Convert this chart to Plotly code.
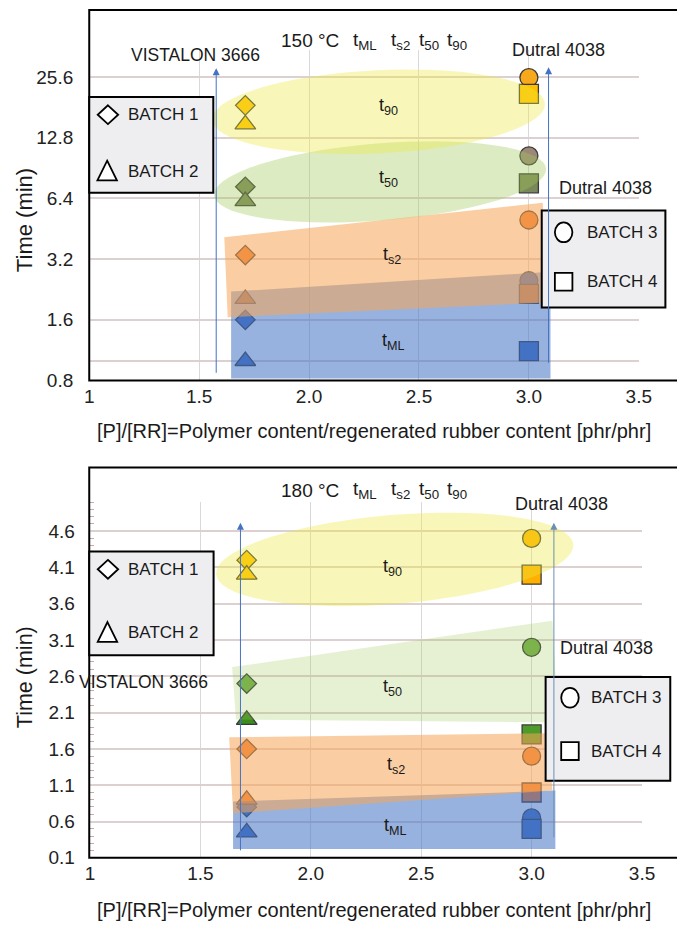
import math
import plotly.graph_objects as go

W, H = 685, 929

# ---------------- data ----------------
x_vistalon = 1.71
x_dutral = 3.0
params = ["t90", "t50", "ts2", "tML"]

# 150 °C  (values in min)  order: t90, t50, ts2, tML
top_batch1 = [18.5, 7.3, 3.35, 1.6]    # VISTALON 3666, diamond
top_batch2 = [14.9, 6.2, 2.03, 1.0]    # VISTALON 3666, triangle
top_batch3 = [25.4, 10.4, 5.0, 2.5]    # Dutral 4038, circle
top_batch4 = [21.1, 7.6, 2.15, 1.12]   # Dutral 4038, square

# 180 °C
bot_batch1 = [4.2, 2.5, 1.6, 0.8]
bot_batch2 = [4.0, 2.0, 0.9, 0.45]
bot_batch3 = [4.5, 3.0, 1.5, 0.65]
bot_batch4 = [4.0, 1.8, 1.0, 0.5]

x_tickvals = [1, 1.5, 2.0, 2.5, 3.0, 3.5]
x_ticktext = ["1", "1.5", "2.0", "2.5", "3.0", "3.5"]
top_y_tickvals = [0.8, 1.0, 1.6, 3.2, 6.4, 12.8, 25.6]
top_y_ticktext = ["0.8", "", "1.6", "3.2", "6.4", "12.8", "25.6"]

# marker colours (t90, t50, ts2, tML)
top_col = {
    1: ["#FFC000", "#7A875A", "#ED7D31", "#4472C4"],
    2: ["#FFC000", "#7A875A", "#ED7D31", "#4472C4"],
    3: ["#F7A81B", "#9C8878", "#ED7D31", "#4472C4"],
    4: ["#FFC000", "#7A875A", "#ED7D31", "#4472C4"],
}
bot_col = {
    1: ["#FFC000", "#70AD47", "#ED7D31", "#4472C4"],
    2: ["#FFC000", "#3C8C1E", "#ED7D31", "#4472C4"],
    3: ["#FFB400", "#70AD47", "#ED7D31", "#4472C4"],
    4: ["#FFB000", "#4E9A2A", "#ED7D31", "#4472C4"],
}

FONT = "Liberation Sans, Arial, sans-serif"


def X(px):
    return px / W


def Y(py):
    return 1 - py / H


fig = go.Figure()

symbols = {1: "diamond", 2: "triangle-up", 3: "circle", 4: "square"}
sizes = {1: 15, 2: 18, 3: 18, 4: 19}


def add_batches(data, cols, xa, ya):
    for b in (1, 2, 3, 4):
        xv = x_vistalon if b in (1, 2) else x_dutral
        fig.add_trace(go.Scatter(
            x=[xv] * len(data[b]), y=data[b], mode="markers",
            xaxis=xa, yaxis=ya, showlegend=False, hoverinfo="skip",
            marker=dict(symbol=symbols[b], size=sizes[b], color=cols[b],
                        line=dict(color="#3A3A3A", width=1.3)),
        ))


add_batches({1: top_batch1, 2: top_batch2, 3: top_batch3, 4: top_batch4}, top_col, "x", "y")
add_batches({1: bot_batch1, 2: bot_batch2, 3: bot_batch3, 4: bot_batch4}, bot_col, "x2", "y2")

# ---------------- shapes ----------------
shapes = []


def poly(pts, fill, line=None, width=0):
    path = "M " + " L ".join(f"{X(a):.5f},{Y(b):.5f}" for a, b in pts) + " Z"
    shapes.append(dict(type="path", xref="paper", yref="paper", path=path,
                       fillcolor=fill, line=dict(width=width, color=line or "rgba(0,0,0,0)"),
                       layer="above"))


def ellipse(cx, cy, rx, ry, ang_deg, fill):
    a = math.radians(ang_deg)
    pts = []
    for i in range(72):
        t = 2 * math.pi * i / 72
        ex, ey = rx * math.cos(t), ry * math.sin(t)
        pts.append((cx + ex * math.cos(a) - ey * math.sin(a),
                    cy + ex * math.sin(a) + ey * math.cos(a)))
    poly(pts, fill)


BLUE = "rgba(68,114,196,0.55)"
ORANGE = "rgba(245,165,85,0.55)"
GREEN = "rgba(160,200,90,0.36)"
GREEN_L = "rgba(160,200,90,0.26)"
YELLOW = "rgba(235,232,60,0.36)"

# top chart shading
poly([(224, 287), (552, 267), (552, 375), (224, 375)], BLUE)
poly([(217, 232), (544, 197), (549, 298), (220.5, 313)], ORANGE)
ellipse(377, 176, 171, 39, -4.5, GREEN)
ellipse(375.5, 105, 171, 42, -2.7, YELLOW)

# bottom chart shading
poly([(226, 803), (557, 792), (557, 851), (226, 851)], BLUE)
poly([(222, 738), (549, 734), (554, 792), (226, 815)], ORANGE)
poly([(225, 667), (554, 620), (560, 723), (229, 720)], GREEN_L)
ellipse(392, 558, 184, 45, -4.7, YELLOW)

# frames
for (x0, y0, x1, y1) in [(78.3, 2, 683, 377), (78.3, 465, 683, 860)]:
    shapes.append(dict(type="rect", xref="paper", yref="paper",
                       x0=X(x0), x1=X(x1), y0=Y(y1), y1=Y(y0),
                       line=dict(color="black", width=2), layer="above"))

# legend boxes
for (x0, y0, x1, y1) in [(78.3, 90, 205.7, 187), (543, 205, 670, 303),
                         (78.3, 550, 206, 655), (547, 677, 675, 782)]:
    shapes.append(dict(type="rect", xref="paper", yref="paper",
                       x0=X(x0), x1=X(x1), y0=Y(y1), y1=Y(y0),
                       fillcolor="#EEEEF1", line=dict(color="black", width=2), layer="above"))


def sym_diamond(cx, cy):
    poly([(cx, cy - 9.5), (cx + 10.5, cy), (cx, cy + 9.5), (cx - 10.5, cy)], "white", "black", 1.8)


def sym_triangle(cx, cy):
    poly([(cx, cy - 10.5), (cx + 10, cy + 9.5), (cx - 10, cy + 9.5)], "white", "black", 1.8)


def sym_circle(cx, cy):
    shapes.append(dict(type="circle", xref="paper", yref="paper",
                       x0=X(cx - 9), x1=X(cx + 9), y0=Y(cy + 10), y1=Y(cy - 10),
                       fillcolor="white", line=dict(color="black", width=1.8), layer="above"))


def sym_square(cx, cy):
    poly([(cx - 9, cy - 9), (cx + 9, cy - 9), (cx + 9, cy + 9), (cx - 9, cy + 9)], "white", "black", 1.8)


sym_diamond(97.5, 108)
sym_triangle(96.7, 165)
sym_circle(565.5, 227)
sym_square(565.5, 277)
sym_diamond(97.5, 568)
sym_triangle(97, 632)
sym_circle(572, 698)
sym_square(572, 752)

# ---------------- annotations ----------------
ann = []


def txt(x, y, s, size=16, anchor="center", angle=0):
    ann.append(dict(x=X(x), y=Y(y), xref="paper", yref="paper", text=s, showarrow=False,
                    xanchor=anchor, yanchor="middle", textangle=angle,
                    font=dict(family=FONT, size=size, color="#1A1A1A")))


def arrow(x, ytop, ybot, color="#4472C4"):
    ann.append(dict(x=X(x), y=Y(ytop), xref="paper", yref="paper", text="",
                    showarrow=True, ax=0, ay=ybot - ytop, arrowhead=2, arrowsize=1.4,
                    arrowwidth=1, arrowcolor=color, standoff=0))


for y0, temp in [(33, "150 °C"), (488, "180 °C")]:
    txt(305.5, y0, temp, 19)
    txt(361, y0, "t<sub>ML</sub>", 19)
    txt(398, y0, "t<sub>s2</sub>", 19)
    txt(427, y0, "t<sub>50</sub>", 19)
    txt(456, y0, "t<sub>90</sub>", 19)

txt(187.5, 48, "VISTALON 3666", 17.5)
txt(560, 43, "Dutral 4038", 18)
txt(608, 182, "Dutral 4038", 18)
txt(386, 100, "t<sub>90</sub>", 18)
txt(386, 173, "t<sub>50</sub>", 18)
txt(389, 250, "t<sub>s2</sub>", 18)
txt(391, 338, "t<sub>ML</sub>", 18)

txt(134, 682, "VISTALON 3666", 17.5)
txt(563, 502, "Dutral 4038", 18)
txt(610, 648, "Dutral 4038", 18)
txt(390, 566, "t<sub>90</sub>", 18)
txt(390, 688, "t<sub>50</sub>", 18)
txt(393, 767, "t<sub>s2</sub>", 18)
txt(393, 828, "t<sub>ML</sub>", 18)

txt(116.5, 108, "BATCH 1", 17, "left")
txt(116.5, 165, "BATCH 2", 17, "left")
txt(587, 227, "BATCH 3", 17, "left")
txt(587, 277, "BATCH 4", 17, "left")
txt(592, 698, "BATCH 3", 17, "left")
txt(592, 752, "BATCH 4", 17, "left")
txt(116.5, 568, "BATCH 1", 17, "left")
txt(116.5, 632, "BATCH 2", 17, "left")

txt(371, 428, "[P]/[RR]=Polymer content/regenerated rubber content [phr/phr]", 20)
txt(371, 913, "[P]/[RR]=Polymer content/regenerated rubber content [phr/phr]", 20)
txt(12.5, 214.5, "Time (min)", 22, angle=-90)
txt(12.5, 677, "Time (min)", 21.5, angle=-90)

arrow(208.7, 61, 367)
arrow(550, 60, 357)
arrow(233.6, 521, 850)
arrow(555.5, 521, 837, "#6A8FB0")

tickfont = dict(family=FONT, size=19, color="#222222")
xcommon = dict(range=[1, 3.5], tickvals=x_tickvals, ticktext=x_ticktext, showgrid=True,
               gridcolor="#D9D9D9", gridwidth=1, zeroline=False, showline=False,
               tickfont=tickfont, ticks="", ticklabelstandoff=2, fixedrange=True)

fig.update_layout(
    width=W, height=H, margin=dict(l=0, r=0, t=0, b=0),
    paper_bgcolor="white", plot_bgcolor="white", showlegend=False,
    xaxis=dict(domain=[X(78.3), X(642.7)], anchor="y", **xcommon),
    yaxis=dict(domain=[Y(377), Y(42)], anchor="x", type="log",
               range=[math.log10(0.8), math.log10(35.0)],
               tickvals=top_y_tickvals, ticktext=top_y_ticktext,
               showgrid=True, gridcolor="#DDD0D0", gridwidth=1.6, zeroline=False,
               showline=False, tickfont=tickfont, ticks="", ticklabelstandoff=15),
    xaxis2=dict(domain=[X(79), X(646)], anchor="y2", **xcommon),
    yaxis2=dict(domain=[Y(860), Y(500)], anchor="x2", range=[0.1, 5.0],
                tick0=0.1, dtick=0.5, tickformat=".1f",
                showgrid=True, gridcolor="#DDD0D0", gridwidth=1.6, zeroline=False,
                showline=False, tickfont=tickfont, ticks="", ticklabelstandoff=14,
                minor=dict(tick0=0.1, dtick=0.1, ticks="inside", ticklen=4,
                           tickcolor="#C8A8A8", showgrid=False)),
    shapes=shapes, annotations=ann,
)

fig.write_html("out.html")
